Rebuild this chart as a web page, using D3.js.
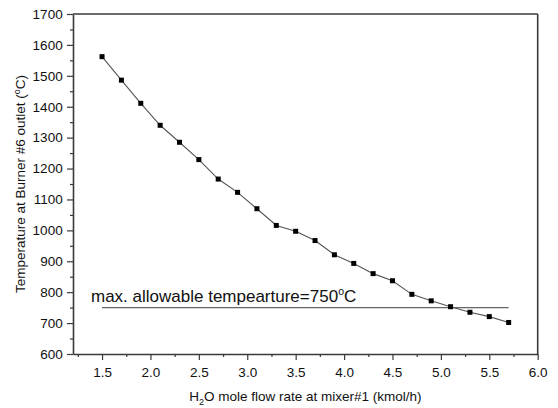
<!DOCTYPE html>
<html><head><meta charset="utf-8">
<script src="https://cdn.jsdelivr.net/npm/d3@7"></script>
<style>body{margin:0;background:#fff}svg{display:block}text{font-family:Arial,"Liberation Sans",sans-serif;fill:#111}</style>
</head><body><svg id="c" width="558" height="408"></svg>
<script>
const flow = [1.5,1.7,1.9,2.1,2.3,2.5,2.7,2.9,3.1,3.3,3.5,3.7,3.9,4.1,4.3,4.5,4.7,4.9,5.1,5.3,5.5,5.7];
const temp = [1562,1486,1411,1340,1285,1229,1166,1123,1070,1016,997,967,921,893,860,837,793,772,753,735,721,702];
const xTicks = [1.5,2.0,2.5,3.0,3.5,4.0,4.5,5.0,5.5,6.0];
const yTicks = [600,700,800,900,1000,1100,1200,1300,1400,1500,1600,1700];
const limitValue = 750;
const limitRange = [1.5,5.7];

const svg = d3.select("#c");
const L=73, R=537.7, T=14, B=354;
const x = d3.scaleLinear().domain([1.2,6.0]).range([L,R]);
const y = d3.scaleLinear().domain([600,1700]).range([B,T]);
const axisColor="#3a3a3a";

const xMinor = d3.range(1.25,6.0,0.5);
const yMinor = d3.range(650,1700,100);
const gx = svg.append("g").attr("transform",`translate(0,${B})`);
gx.call(d3.axisBottom(x).tickValues(xTicks).tickFormat(d3.format(".1f")).tickSize(6).tickSizeOuter(0));
gx.append("g").call(d3.axisBottom(x).tickValues(xMinor).tickFormat("").tickSize(3).tickSizeOuter(0)).select(".domain").remove();
const gy = svg.append("g").attr("transform",`translate(${L},0)`);
gy.call(d3.axisLeft(y).tickValues(yTicks).tickFormat(d3.format("d")).tickSize(6).tickSizeOuter(0));
gy.append("g").call(d3.axisLeft(y).tickValues(yMinor).tickFormat("").tickSize(3).tickSizeOuter(0)).select(".domain").remove();
svg.selectAll(".tick line").attr("stroke",axisColor).attr("stroke-width",1.2);
svg.selectAll(".domain").attr("stroke",axisColor).attr("stroke-width",1.6);
svg.selectAll(".tick text").attr("font-size",13.5).attr("fill","#111").style("font-family","Arial, 'Liberation Sans', sans-serif");
gx.selectAll(".tick text").attr("dy","1.05em");
gy.selectAll(".tick text").attr("dx","-0.1em");
svg.append("line").attr("x1",L).attr("x2",R).attr("y1",T).attr("y2",T).attr("stroke",axisColor).attr("stroke-width",1.6);
svg.append("line").attr("x1",R).attr("x2",R).attr("y1",T).attr("y2",B).attr("stroke",axisColor).attr("stroke-width",1.6);

svg.append("line").attr("x1",x(limitRange[0])).attr("x2",x(limitRange[1]))
  .attr("y1",y(limitValue)).attr("y2",y(limitValue)).attr("stroke","#666").attr("stroke-width",1.1);

const data = flow.map((f,i)=>({f,t:temp[i]}));
svg.append("path").datum(data).attr("fill","none").attr("stroke","#555").attr("stroke-width",1.1)
  .attr("d",d3.line().x(d=>x(d.f)).y(d=>y(d.t)));
svg.selectAll("rect.pt").data(data).join("rect").attr("class","pt")
  .attr("x",d=>x(d.f)-2.5).attr("y",d=>y(d.t)-2.5).attr("width",5).attr("height",5).attr("fill","#000");

const ann = svg.append("text").attr("x",91).attr("y",302).attr("font-size",17);
ann.append("tspan").text("max. allowable tempearture=750");
ann.append("tspan").attr("font-size",10.5).attr("dy",-7.5).text("o");
ann.append("tspan").attr("dy",7.5).text("C");

const xt = svg.append("text").attr("x",(L+R)/2).attr("y",401).attr("text-anchor","middle").attr("font-size",13.5);
xt.append("tspan").text("H");
xt.append("tspan").attr("font-size",9).attr("dy",4).text("2");
xt.append("tspan").attr("dy",-4).text("O mole flow rate at mixer#1 (kmol/h)");

const yt = svg.append("text").attr("transform",`translate(25,${(T+B)/2}) rotate(-90)`).attr("text-anchor","middle").attr("font-size",13.5);
yt.append("tspan").text("Temperature at Burner #6 outlet (");
yt.append("tspan").attr("font-size",9).attr("dy",-5).text("o");
yt.append("tspan").attr("dy",5).text("C)");
</script></body></html>
